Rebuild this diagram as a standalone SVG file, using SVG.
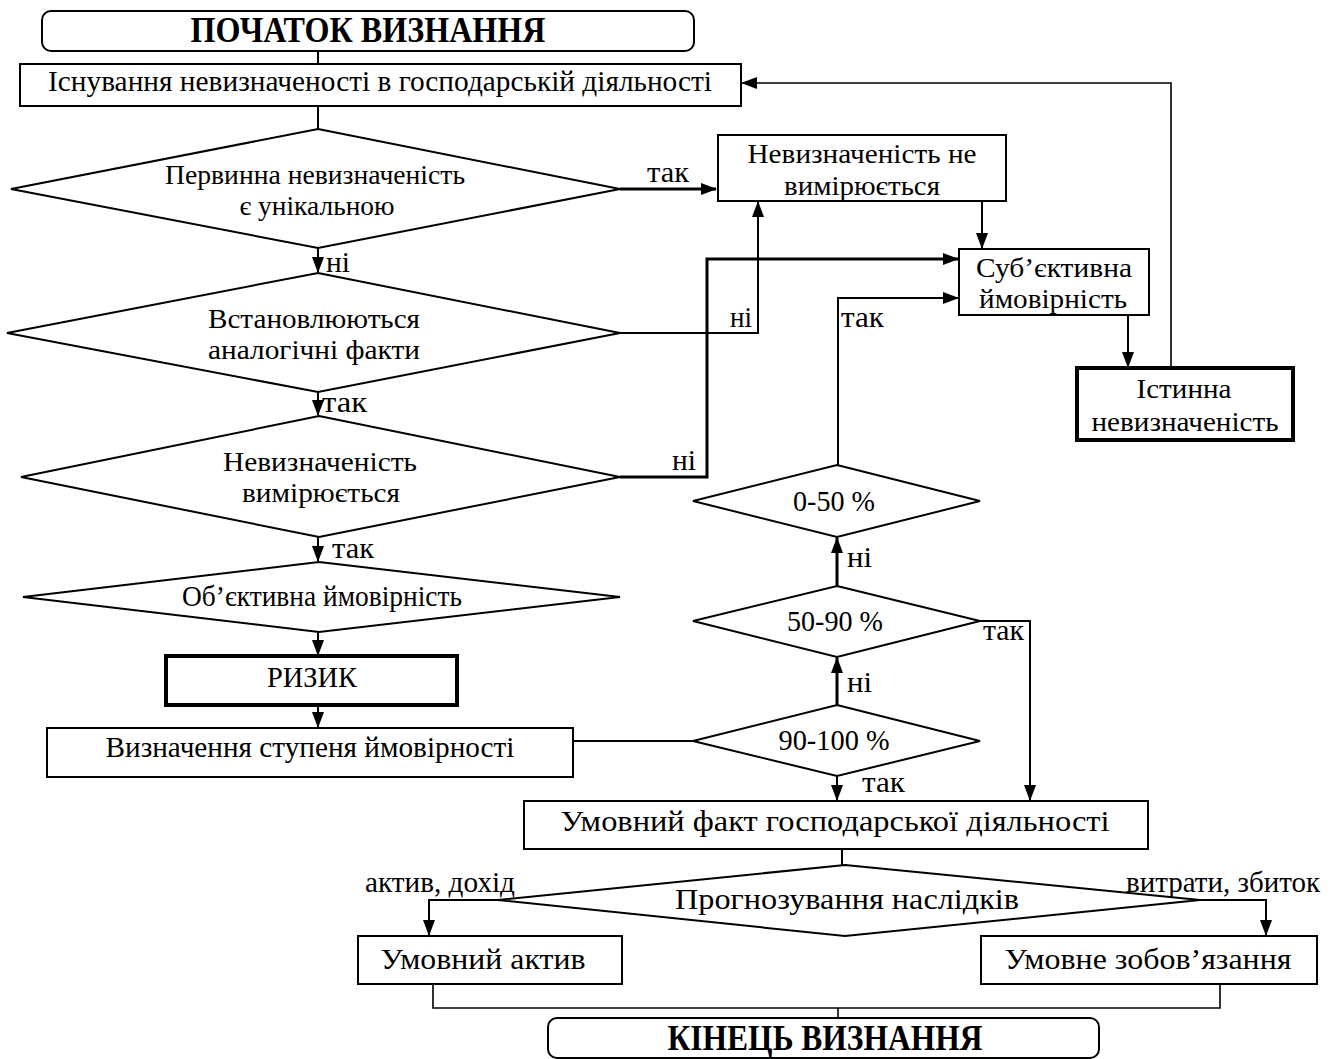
<svg xmlns="http://www.w3.org/2000/svg" width="1335" height="1059" viewBox="0 0 1335 1059">
<style>
.box{fill:#fff;stroke:#000;stroke-width:2}
.thick{stroke-width:4}
.dia{fill:#fff;stroke:#000;stroke-width:2}
.c{fill:none;stroke:#000;stroke-width:2}
.cb{fill:none;stroke:#000;stroke-width:3}
.cl{fill:none;stroke:#000;stroke-width:1.6}
text{font-family:"Liberation Serif","Times New Roman",serif;font-size:30px;fill:#000}
.m{text-anchor:middle}
.s{font-size:28px}
.b{font-weight:bold;font-size:35px}
</style>
<defs>
<marker id="ah" markerWidth="16" markerHeight="12" refX="15" refY="6" orient="auto" markerUnits="userSpaceOnUse"><path d="M0,0 L16,6 L0,12 z" fill="#000"/></marker>
</defs>
<rect width="1335" height="1059" fill="#fff"/>

<g id="connectors">
<path class="c" d="M318,52 V64"/>
<path class="c" d="M318,106 V129"/>
<path class="cb" d="M620,189 H716" marker-end="url(#ah)"/>
<path class="c" d="M318,248 V272" marker-end="url(#ah)"/>
<path class="c" d="M620,333 H758 V202" marker-end="url(#ah)"/>
<path class="c" d="M318,392 V415" marker-end="url(#ah)"/>
<path class="cb" d="M620,477 H707 V259 H958" marker-end="url(#ah)"/>
<path class="c" d="M318,537 V561" marker-end="url(#ah)"/>
<path class="c" d="M318,632 V655" marker-end="url(#ah)"/>
<path class="c" d="M318,705 V727" marker-end="url(#ah)"/>
<path class="c" d="M573,741 H693"/>
<path class="cb" d="M837,705 V658" marker-end="url(#ah)"/>
<path class="cb" d="M837,586 V538" marker-end="url(#ah)"/>
<path class="c" d="M838,465 V298 H958" marker-end="url(#ah)"/>
<path class="c" d="M980,621 H1030 V800" marker-end="url(#ah)"/>
<path class="c" d="M837,776 V800" marker-end="url(#ah)"/>
<path class="c" d="M982,201 V248" marker-end="url(#ah)"/>
<path class="c" d="M1128,315 V367" marker-end="url(#ah)"/>
<path class="cl" d="M1171,368 V83 H742" marker-end="url(#ah)"/>
<path class="c" d="M842,849 V865"/>
<path class="c" d="M498,900 H429 V935" marker-end="url(#ah)"/>
<path class="c" d="M1200,900 H1266 V935" marker-end="url(#ah)"/>
<path class="cl" d="M433,984 V1008 H1220 V984"/>
<path class="cl" d="M838,1008 V1018"/>
</g>

<g id="labels">
<text x="647" y="182" textLength="42" lengthAdjust="spacingAndGlyphs">так</text>
<text x="326" y="272" textLength="24" lengthAdjust="spacingAndGlyphs">ні</text>
<text x="730" y="327" textLength="22" lengthAdjust="spacingAndGlyphs">ні</text>
<text x="322" y="412" textLength="45" lengthAdjust="spacingAndGlyphs">так</text>
<text x="672" y="470" textLength="24" lengthAdjust="spacingAndGlyphs">ні</text>
<text x="332" y="558" textLength="42" lengthAdjust="spacingAndGlyphs">так</text>
<text x="841" y="327" textLength="43" lengthAdjust="spacingAndGlyphs">так</text>
<text x="847" y="567" textLength="25" lengthAdjust="spacingAndGlyphs">ні</text>
<text x="847" y="692" textLength="25" lengthAdjust="spacingAndGlyphs">ні</text>
<text x="983" y="640" textLength="41" lengthAdjust="spacingAndGlyphs">так</text>
<text x="862" y="792" textLength="43" lengthAdjust="spacingAndGlyphs">так</text>
<text x="365" y="892" textLength="150" lengthAdjust="spacingAndGlyphs">актив, дохід</text>
<text x="1126" y="892" textLength="194" lengthAdjust="spacingAndGlyphs">витрати, збиток</text>
</g>

<g id="start">
<rect class="box" x="42" y="11" width="652" height="40" rx="9"/>
<text class="m b" x="368" y="42" textLength="355" lengthAdjust="spacingAndGlyphs">ПОЧАТОК ВИЗНАННЯ</text>
</g>
<g id="existence">
<rect class="box" x="20" y="64" width="721" height="42"/>
<text class="m" x="380" y="91" textLength="664" lengthAdjust="spacingAndGlyphs">Існування невизначеності в господарській діяльності</text>
</g>
<g id="d-unique">
<polygon class="dia" points="318,129 620,189 318,248 11,189"/>
<text class="m s" x="315" y="184" textLength="300" lengthAdjust="spacingAndGlyphs">Первинна невизначеність</text>
<text class="m s" x="317" y="215" textLength="155" lengthAdjust="spacingAndGlyphs">є унікальною</text>
</g>
<g id="d-analog">
<polygon class="dia" points="318,273 620,333 318,392 7,333"/>
<text class="m s" x="314" y="328" textLength="212" lengthAdjust="spacingAndGlyphs">Встановлюються</text>
<text class="m s" x="314" y="359" textLength="212" lengthAdjust="spacingAndGlyphs">аналогічні факти</text>
</g>
<g id="d-measured">
<polygon class="dia" points="319,416 620,477 319,537 21,477"/>
<text class="m s" x="320" y="471" textLength="194" lengthAdjust="spacingAndGlyphs">Невизначеність</text>
<text class="m s" x="321" y="502" textLength="158" lengthAdjust="spacingAndGlyphs">вимірюється</text>
</g>
<g id="d-objective">
<polygon class="dia" points="319,562 620,597 319,632 23,597"/>
<text class="m" x="322" y="606" textLength="280" lengthAdjust="spacingAndGlyphs">Об’єктивна ймовірність</text>
</g>
<g id="risk">
<rect class="box thick" x="166" y="656" width="291" height="49"/>
<text class="m" x="312" y="687" textLength="90" lengthAdjust="spacingAndGlyphs">РИЗИК</text>
</g>
<g id="degree">
<rect class="box" x="47" y="728" width="526" height="49"/>
<text class="m" x="310" y="757" textLength="409" lengthAdjust="spacingAndGlyphs">Визначення ступеня ймовірності</text>
</g>
<g id="not-measured">
<rect class="box" x="718" y="135" width="288" height="66"/>
<text class="m s" x="862" y="163" textLength="229" lengthAdjust="spacingAndGlyphs">Невизначеність не</text>
<text class="m s" x="862" y="195" textLength="156" lengthAdjust="spacingAndGlyphs">вимірюється</text>
</g>
<g id="subjective">
<rect class="box" x="959" y="249" width="190" height="66"/>
<text class="m s" x="1054" y="277" textLength="156" lengthAdjust="spacingAndGlyphs">Суб’єктивна</text>
<text class="m s" x="1053" y="308" textLength="148" lengthAdjust="spacingAndGlyphs">ймовірність</text>
</g>
<g id="true-uncertainty">
<rect class="box thick" x="1077" y="368" width="216" height="72"/>
<text class="m s" x="1184" y="398" textLength="95" lengthAdjust="spacingAndGlyphs">Істинна</text>
<text class="m s" x="1185" y="431" textLength="187" lengthAdjust="spacingAndGlyphs">невизначеність</text>
</g>
<g id="d-0-50">
<polygon class="dia" points="837,465 980,501 837,537 693,501"/>
<text class="m" x="834" y="511" textLength="82" lengthAdjust="spacingAndGlyphs">0-50 %</text>
</g>
<g id="d-50-90">
<polygon class="dia" points="837,586 980,621 837,657 693,621"/>
<text class="m" x="835" y="631" textLength="96" lengthAdjust="spacingAndGlyphs">50-90 %</text>
</g>
<g id="d-90-100">
<polygon class="dia" points="837,705 980,741 837,776 693,741"/>
<text class="m" x="834" y="750" textLength="111" lengthAdjust="spacingAndGlyphs">90-100 %</text>
</g>
<g id="conditional-fact">
<rect class="box" x="524" y="801" width="624" height="48"/>
<text class="m" x="835" y="831" textLength="549" lengthAdjust="spacingAndGlyphs">Умовний факт господарської діяльності</text>
</g>
<g id="d-forecast">
<polygon class="dia" points="845,865 1200,900 845,936 498,900"/>
<text class="m" x="847" y="909" textLength="344" lengthAdjust="spacingAndGlyphs">Прогнозування наслідків</text>
</g>
<g id="cond-asset">
<rect class="box" x="358" y="936" width="264" height="48"/>
<text class="m" x="483" y="969" textLength="205" lengthAdjust="spacingAndGlyphs">Умовний актив</text>
</g>
<g id="cond-liability">
<rect class="box" x="981" y="936" width="336" height="48"/>
<text class="m" x="1148" y="969" textLength="287" lengthAdjust="spacingAndGlyphs">Умовне зобов’язання</text>
</g>
<g id="end">
<rect class="box" x="548" y="1018" width="551" height="40" rx="9"/>
<text class="m b" x="825" y="1050" textLength="315" lengthAdjust="spacingAndGlyphs">КІНЕЦЬ ВИЗНАННЯ</text>
</g>
</svg>
